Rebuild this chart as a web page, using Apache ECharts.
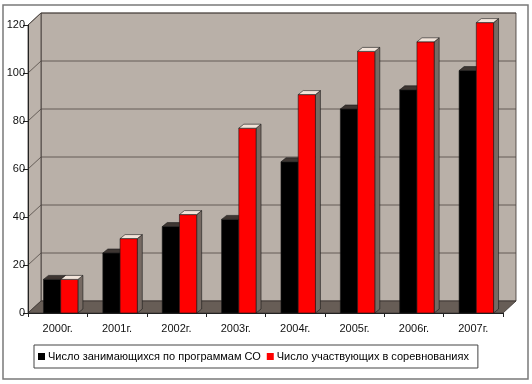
<!DOCTYPE html>
<html><head><meta charset="utf-8">
<script src="https://cdn.jsdelivr.net/npm/echarts@6/dist/echarts.min.js"></script>
<style>html,body{margin:0;padding:0;background:#fff}#c{width:532px;height:384px}</style>
</head><body><div id="c"></div>
<script>
const categories = ['2000г.','2001г.','2002г.','2003г.','2004г.','2005г.','2006г.','2007г.'];
const seriesNames = ['Число занимающихся по программам СО','Число участвующих в соревнованиях'];
const practicing = [14, 25, 36, 39, 63, 85, 93, 101];
const competing = [14, 31, 41, 77, 91, 109, 113, 121];
const yTicks = [0, 20, 40, 60, 80, 100, 120];

const DX = 13, DY = -12;      // depth of the 3D box
const BD = 5, BE = 4;         // depth of each bar
const faces = [
  {front:'#000000', top:'#3e3632', side:'#2a2420'},
  {front:'#ff0000', top:'#f2e4da', side:'#766a63'}
];

function makeRender(si){
  return function(params, api){
    const ci = api.value(0), v = api.value(1);
    const base = api.coord([ci, 0]);
    const top = api.coord([ci, v]);
    const bw = api.size([1, 0])[0];
    const w = bw * 0.29;
    const x0 = base[0] + 3 - w + si * w;
    const yb = base[1], yt = top[1];
    const f = faces[si];
    const st = {stroke:'#1a1a1a', lineWidth:0.6};
    return {type:'group', children:[
      {type:'polygon', shape:{points:[[x0+w,yt],[x0+w+BD,yt-BE],[x0+w+BD,yb-BE],[x0+w,yb]]}, style:Object.assign({fill:f.side}, st)},
      {type:'rect', shape:{x:x0, y:yt, width:w, height:yb-yt}, style:Object.assign({fill:f.front}, st)},
      {type:'polygon', shape:{points:[[x0,yt],[x0+w,yt],[x0+w+BD,yt-BE],[x0+BD,yt-BE]]}, style:Object.assign({fill:f.top}, st)}
    ]};
  };
}

const chart = echarts.init(document.getElementById('c'), null, {renderer:'canvas'});
const font = 'Arial, "Liberation Sans", sans-serif';
chart.setOption({
  animation:false,
  backgroundColor:'#ffffff',
  grid:{left:28, right:29, top:25, bottom:71},
  xAxis:{type:'category', data:categories,
    axisLine:{lineStyle:{color:'#222', width:1}},
    axisTick:{show:true, length:4, lineStyle:{color:'#222'}},
    axisLabel:{fontSize:11, color:'#111', margin:10, fontFamily:font},
    splitLine:{show:false}},
  yAxis:{type:'value', min:0, max:120, interval:20,
    axisLine:{show:true, lineStyle:{color:'#222', width:1}},
    axisTick:{show:true, length:5, lineStyle:{color:'#222'}},
    axisLabel:{fontSize:11, color:'#111', margin:3, fontFamily:font},
    splitLine:{show:false}},
  legend:{left:34, top:345, data:seriesNames.map(n=>({name:n, icon:'rect'})),
    itemWidth:7, itemHeight:7, itemGap:6,
    borderColor:'#444', borderWidth:1, padding:[6,9,6,4],
    textStyle:{fontSize:11, color:'#000', fontFamily:font, padding:[0,0,0,-2]}},
  series:[
    {type:'custom', name:seriesNames[0], renderItem:makeRender(0), itemStyle:{color:'#000'},
      encode:{x:0, y:1}, data:practicing.map((v,i)=>[i,v]), z:5},
    {type:'custom', name:seriesNames[1], renderItem:makeRender(1), itemStyle:{color:'#ff0000'},
      encode:{x:0, y:1}, data:competing.map((v,i)=>[i,v]), z:6}
  ]
});

// walls, floor and gridlines derived from the axes
const xL = 28, xR = 532 - 29;
const y0 = chart.convertToPixel({yAxisIndex:0}, 0);
const yTop = chart.convertToPixel({yAxisIndex:0}, 120);
const g = [];
g.push({type:'rect', shape:{x:3, y:5, width:525, height:374}, style:{fill:'none', stroke:'#7a7a7a', lineWidth:1.5}, z:-10});
// back wall
g.push({type:'rect', shape:{x:xL+DX, y:yTop+DY, width:xR-xL, height:y0-yTop}, style:{fill:'#b9b0a8', stroke:'#3a3330', lineWidth:0.8}, z:-5});
// left wall
g.push({type:'polygon', shape:{points:[[xL,yTop],[xL+DX,yTop+DY],[xL+DX,y0+DY],[xL,y0]]}, style:{fill:'#bcb3ab', stroke:'#3a3330', lineWidth:0.8}, z:-5});
// floor
g.push({type:'polygon', shape:{points:[[xL,y0],[xL+DX,y0+DY],[xR+DX,y0+DY],[xR,y0]]}, style:{fill:'#675d56', stroke:'#3a3330', lineWidth:0.8}, z:-4});
yTicks.forEach(t=>{
  if (t === 0) return;
  const y = chart.convertToPixel({yAxisIndex:0}, t);
  g.push({type:'polyline', shape:{points:[[xL,y],[xL+DX,y+DY],[xR+DX,y+DY]]}, style:{stroke:'#4f4843', lineWidth:0.8, fill:'none'}, z:-3});
});
chart.setOption({graphic:{elements:g}});
</script>
</body></html>
